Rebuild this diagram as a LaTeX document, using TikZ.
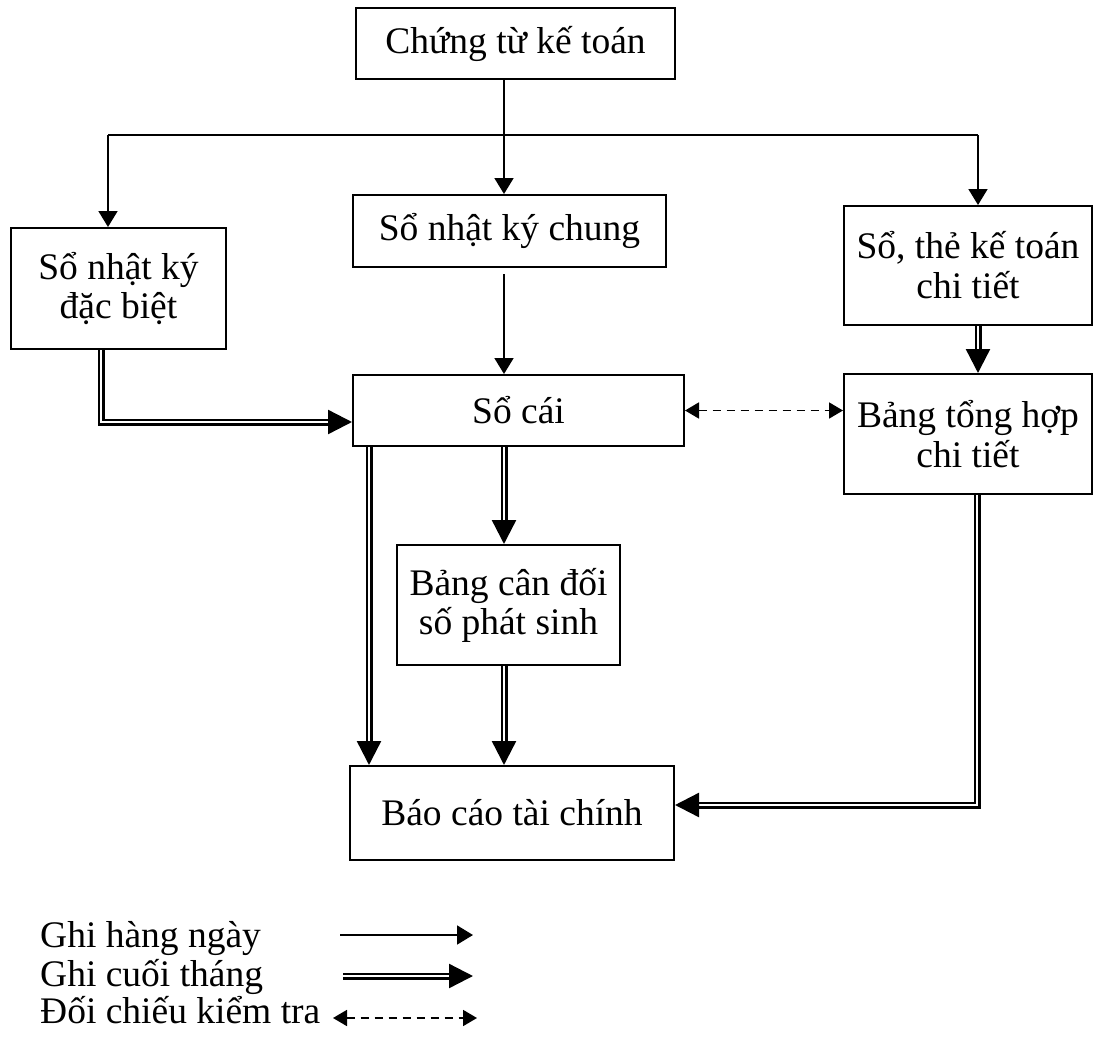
\documentclass[tikz,border=0pt]{standalone}
\usepackage{fontspec}
\setmainfont{Liberation Serif}
\usetikzlibrary{arrows.meta,positioning}
\tikzstyle{box} = [draw,line width=2pt,inner sep=0pt,align=center,font=\fontsize{37.5}{39}\selectfont]
\tikzstyle{box tall} = [box,font=\fontsize{37.5}{40}\selectfont]
\tikzstyle{daily} = [line width=1.8pt,-{Triangle[length=16pt,width=19pt]}]
\tikzstyle{monthly} = [double,line width=2.4pt,double distance=2.2pt,-{Triangle[length=24pt,width=24pt]}]
\tikzstyle{check} = [line width=1.8pt,dash pattern=on 8pt off 6pt,{Triangle[length=14pt,width=16pt]}-{Triangle[length=14pt,width=16pt]}]
\tikzstyle{legend label} = [anchor=base west,inner sep=0pt,font=\fontsize{37.5}{37}\selectfont]

\begin{document}
\begin{tikzpicture}[x=1pt,y=-1pt]
    \useasboundingbox (0,0) rectangle (1120,1039);
    % draw boxes
    \node[box,minimum width=319pt,minimum height=71pt] (ct) at (515.5,43.5) {Chứng từ kế toán};
    \node[box,minimum width=313pt,minimum height=72pt] (nkc) at (509.5,231) {Sổ nhật ký chung};
    \node[box,minimum width=215pt,minimum height=121pt] (nkdb) at (118.5,288.5) {Sổ nhật ký\\đặc biệt};
    \node[box tall,minimum width=248pt,minimum height=119pt] (stct) at (968,265.5) {Sổ, thẻ kế toán\\chi tiết};
    \node[box,minimum width=331pt,minimum height=71pt] (sc) at (518.5,410.5) {Sổ cái};
    \node[box tall,minimum width=248pt,minimum height=120pt] (bth) at (968,434) {Bảng tổng hợp\\chi tiết};
    \node[box,minimum width=223pt,minimum height=120pt] (bcd) at (508.5,605) {Bảng cân đối\\số phát sinh};
    \node[box,minimum width=324pt,minimum height=94pt] (bctc) at (512,813) {Báo cáo tài chính};

    % turning points
    \coordinate (split) at (504,135);
    \coordinate (lft) at (108,135);
    \coordinate (rgt) at (978,135);
    \coordinate (lcol) at (369,0);
    \coordinate (bend1) at (101,422);
    \coordinate (bend2) at (977,805);

    % daily entries
    \draw[line width=1.8pt] (lft) -- (rgt);
    \draw[daily] (ct.south -| split) -- (nkc.north -| split);
    \draw[daily] (lft) -- (lft |- nkdb.north);
    \draw[daily] (rgt) -- (rgt |- stct.north);
    \draw[daily,shorten <=6pt] (nkc.south -| split) -- (sc.north -| split);

    % month end entries
    \draw[monthly] (nkdb.south -| bend1) -- (bend1) -- (bend1 -| sc.west);
    \draw[monthly] (stct.south -| rgt) -- (bth.north -| rgt);
    \draw[monthly] (sc.south -| split) -- (bcd.north -| split);
    \draw[monthly] (bcd.south -| split) -- (bctc.north -| split);
    \draw[monthly] (sc.south -| lcol) -- (bctc.north -| lcol);
    \draw[monthly] (bth.south -| bend2) -- (bend2) -- (bend2 -| bctc.east);

    % cross check
    \draw[check] (sc.east) -- (sc.east -| bth.west);

    % legend
    \node[legend label] (leg1) at (40,947) {Ghi hàng ngày};
    \node[legend label] (leg2) at (40,986) {Ghi cuối tháng};
    \node[legend label] (leg3) at (40,1023) {Đối chiếu kiểm tra};
    \coordinate (l1a) at (340,935);
    \coordinate (l1b) at (473,935);
    \coordinate (l2a) at (343,976);
    \coordinate (l2b) at (473,976);
    \coordinate (l3a) at (333,1018);
    \coordinate (l3b) at (477,1018);
    \draw[daily] (l1a) -- (l1b);
    \draw[monthly] (l2a) -- (l2b);
    \draw[check] (l3a) -- (l3b);
\end{tikzpicture}
\end{document}
